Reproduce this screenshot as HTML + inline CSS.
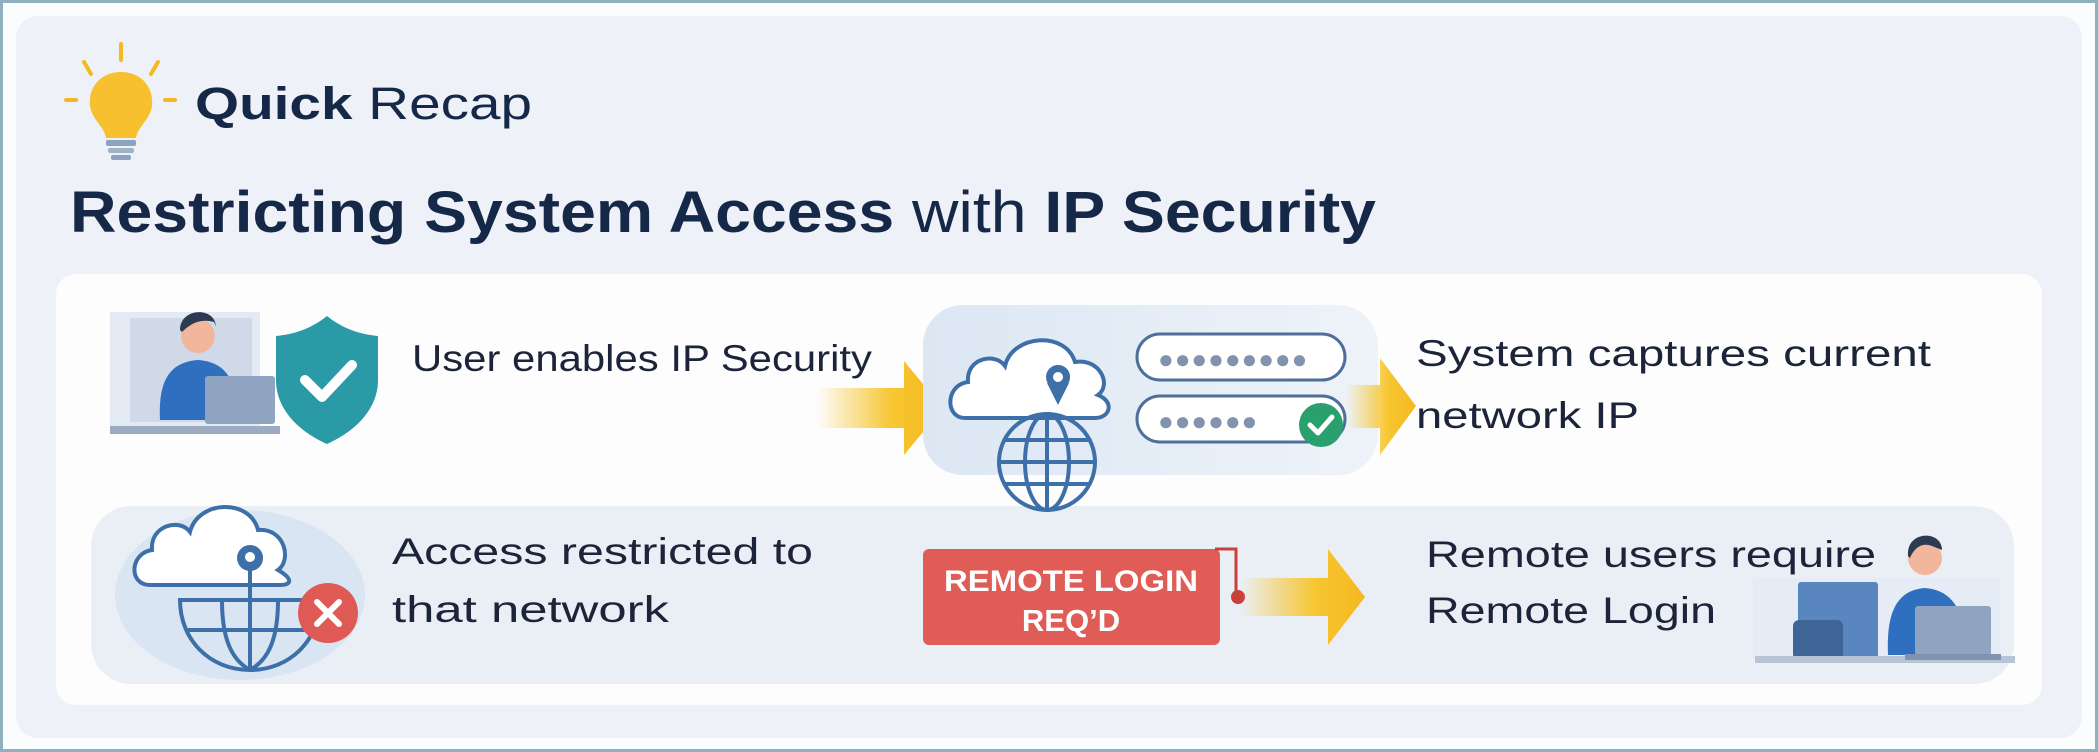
<!DOCTYPE html>
<html><head><meta charset="utf-8"><style>
html,body{margin:0;padding:0;background:#fff;}
svg{display:block;}
text{font-family:"Liberation Sans",sans-serif;}
</style></head><body>
<svg width="2098" height="752" viewBox="0 0 2098 752" xmlns="http://www.w3.org/2000/svg">
<defs>
<linearGradient id="ar" x1="0" x2="1" y1="0" y2="0">
<stop offset="0" stop-color="#f7c631" stop-opacity="0"/><stop offset="0.6" stop-color="#f7c631"/><stop offset="1" stop-color="#f5b820"/>
</linearGradient>
<linearGradient id="cp" x1="0" x2="1"><stop offset="0" stop-color="#dce7f3"/><stop offset="1" stop-color="#eef3f9"/></linearGradient>
</defs>
<rect x="0" y="0" width="2098" height="752" fill="#8fb0bf"/>
<rect x="3" y="3" width="2092" height="746" fill="#fbfcfe"/>
<rect x="16" y="16" width="2066" height="722" rx="22" fill="#eef1f7"/>

<!-- bulb -->
<g stroke="#f5b820" stroke-width="4" stroke-linecap="round">
<line x1="121" y1="44" x2="121" y2="60"/><line x1="84" y1="62" x2="91" y2="74"/><line x1="158" y1="62" x2="151" y2="74"/>
<line x1="66" y1="100" x2="76" y2="100"/><line x1="165" y1="100" x2="175" y2="100"/>
</g>
<path d="M121 72 C100 72 88 88 90 106 C92 120 104 126 106 138 L136 138 C138 126 150 120 152 106 C154 88 142 72 121 72Z" fill="#f7c02f"/>
<rect x="106" y="140" width="30" height="6" rx="2" fill="#8da3bd"/>
<rect x="108" y="148" width="26" height="5" rx="2" fill="#9fb2c8"/>
<rect x="111" y="155" width="20" height="5" rx="2" fill="#8da3bd"/>

<text x="195" y="119" font-size="45" fill="#152848" textLength="337" lengthAdjust="spacingAndGlyphs"><tspan font-weight="bold">Quick</tspan> Recap</text>
<text x="70" y="232" font-size="58" fill="#152848" textLength="1306" lengthAdjust="spacingAndGlyphs"><tspan font-weight="bold">Restricting System Access</tspan> with <tspan font-weight="bold">IP Security</tspan></text>

<!-- white card -->
<rect x="56" y="274" width="1986" height="431" rx="20" fill="#fdfdfe"/>

<!-- row 1 person -->
<rect x="110" y="312" width="150" height="116" fill="#e4eaf3"/>
<rect x="130" y="318" width="122" height="104" fill="#cfd9e7"/>
<rect x="110" y="426" width="170" height="8" fill="#9aabc2"/>
<circle cx="198" cy="336" r="17" fill="#f2b69c"/>
<path d="M180 330 C180 308 214 306 216 326 L214 322 C200 318 190 324 182 332Z" fill="#2c3b52"/>
<path d="M160 420 C158 380 170 362 198 360 C226 362 238 380 236 420Z" fill="#2f6fbf"/>
<rect x="205" y="376" width="70" height="48" rx="3" fill="#8ea4c0"/>
<!-- shield -->
<path d="M327 316 C312 328 296 334 276 336 L276 380 C276 410 300 432 327 444 C354 432 378 410 378 380 L378 336 C358 334 342 328 327 316Z" fill="#2a9aa6"/>
<path d="M305 380 L322 397 L352 365" fill="none" stroke="#fff" stroke-width="10" stroke-linecap="round" stroke-linejoin="round"/>
<text x="412" y="371" font-size="37" fill="#1b2438" textLength="460" lengthAdjust="spacingAndGlyphs">User enables IP Security</text>

<!-- arrow 1 -->
<path d="M816 388 L904 388 L904 361 L943 408 L904 455 L904 428 L816 428Z" fill="url(#ar)"/>

<!-- row 2 panel -->
<rect x="91" y="506" width="1923" height="178" rx="40" fill="#eaeff6"/>

<!-- cloud panel -->
<rect x="923" y="305" width="455" height="170" rx="40" fill="url(#cp)"/>
<path d="M965 418 C945 418 945 385 968 382 C966 358 995 352 1005 366 C1012 335 1065 330 1075 362 C1100 358 1112 385 1098 395 C1115 402 1110 418 1095 418Z" fill="#fff" stroke="#3d6fa8" stroke-width="4"/>
<path d="M1058 365 a12 12 0 1 0 0.1 0 Z" fill="#3d6fa8"/>
<path d="M1047 383 L1058 405 L1069 383Z" fill="#3d6fa8"/>
<circle cx="1058" cy="377" r="5" fill="#fff"/>
<g fill="none" stroke="#3d6fa8" stroke-width="4">
<circle cx="1047" cy="462" r="48"/>
<ellipse cx="1047" cy="462" rx="22" ry="48"/>
<line x1="1047" y1="414" x2="1047" y2="510"/>
<line x1="999" y1="462" x2="1095" y2="462"/>
<line x1="1005" y1="440" x2="1089" y2="440"/><line x1="1005" y1="484" x2="1089" y2="484"/>
</g>
<rect x="1137" y="334" width="208" height="46" rx="23" fill="#fff" stroke="#4d6f9a" stroke-width="3"/>
<text x="1158" y="368" font-size="26" fill="#8094b0" letter-spacing="1">●●●●●●●●●</text>
<rect x="1137" y="396" width="208" height="46" rx="23" fill="#fff" stroke="#4d6f9a" stroke-width="3"/>
<text x="1158" y="430" font-size="26" fill="#8094b0" letter-spacing="1">●●●●●●</text>
<circle cx="1321" cy="425" r="22" fill="#2aa06e"/>
<path d="M1310 425 L1318 433 L1332 417" fill="none" stroke="#fff" stroke-width="5" stroke-linecap="round" stroke-linejoin="round"/>

<!-- arrow 2 -->
<path d="M1346 385 L1380 385 L1380 358 L1416 406 L1380 455 L1380 428 L1346 428Z" fill="url(#ar)"/>
<text x="1416" y="366" font-size="37" fill="#1b2438" textLength="515" lengthAdjust="spacingAndGlyphs">System captures current</text>
<text x="1416" y="428" font-size="37" fill="#1b2438" textLength="223" lengthAdjust="spacingAndGlyphs">network IP</text>

<!-- row 2 content -->
<ellipse cx="240" cy="595" rx="125" ry="85" fill="#d9e5f2"/>
<path d="M150 585 C128 585 130 553 152 550 C150 525 180 518 190 532 C198 500 250 498 258 530 C285 528 292 560 278 570 C295 580 290 585 280 585Z" fill="#fff" stroke="#3d6fa8" stroke-width="4"/>
<path d="M250 545 a13 13 0 1 0 0.1 0 Z" fill="#3d6fa8"/>
<line x1="250" y1="560" x2="250" y2="600" stroke="#3d6fa8" stroke-width="4"/>
<circle cx="250" cy="557" r="5" fill="#fff"/>
<g fill="none" stroke="#3d6fa8" stroke-width="4">
<path d="M180 600 L320 600 C320 640 290 670 250 670 C210 670 180 640 180 600Z"/>
<line x1="250" y1="600" x2="250" y2="670"/><path d="M222 600 C222 640 232 660 250 670 M278 600 C278 640 268 660 250 670"/>
<line x1="188" y1="630" x2="312" y2="630"/>
</g>
<circle cx="328" cy="613" r="30" fill="#e05a55"/>
<path d="M317 602 L339 624 M339 602 L317 624" stroke="#fff" stroke-width="6" stroke-linecap="round"/>
<text x="392" y="564" font-size="37" fill="#1b2438" textLength="421" lengthAdjust="spacingAndGlyphs">Access restricted to</text>
<text x="392" y="622" font-size="37" fill="#1b2438" textLength="277" lengthAdjust="spacingAndGlyphs">that network</text>

<!-- red box -->
<rect x="923" y="549" width="297" height="96" rx="6" fill="#e05c56"/>
<path d="M1215 549 L1236 549 L1236 595" fill="none" stroke="#c9403b" stroke-width="3"/>
<circle cx="1238" cy="597" r="7" fill="#c9403b"/>
<text x="1071" y="591" font-size="30" fill="#fff" text-anchor="middle" font-weight="bold" textLength="254" lengthAdjust="spacingAndGlyphs">REMOTE LOGIN</text>
<text x="1071" y="631" font-size="31" fill="#fff" text-anchor="middle" font-weight="bold">REQ’D</text>

<!-- arrow 3 -->
<path d="M1240 578 L1328 578 L1328 549 L1365 597 L1328 645 L1328 616 L1240 616Z" fill="url(#ar)"/>
<text x="1426" y="567" font-size="37" fill="#1b2438" textLength="450" lengthAdjust="spacingAndGlyphs">Remote users require</text>
<text x="1426" y="623" font-size="37" fill="#1b2438" textLength="290" lengthAdjust="spacingAndGlyphs">Remote Login</text>

<!-- remote person -->
<rect x="1753" y="578" width="247" height="80" fill="#e6ecf5"/>
<rect x="1798" y="582" width="80" height="78" rx="3" fill="#5a86c0"/>
<rect x="1793" y="620" width="50" height="40" rx="6" fill="#3f6496"/>
<rect x="1755" y="656" width="260" height="7" fill="#b6c4d6"/>
<circle cx="1925" cy="558" r="17" fill="#f2b69c"/>
<path d="M1908 556 C1906 530 1942 530 1942 550 L1932 546 C1922 542 1914 548 1910 558Z" fill="#2c3b52"/>
<path d="M1888 655 C1886 610 1898 590 1925 588 C1952 590 1966 610 1966 655Z" fill="#2f6fbf"/>
<rect x="1915" y="606" width="76" height="50" rx="3" fill="#8ea4c0"/>
<rect x="1905" y="654" width="96" height="6" fill="#7d93b0"/>
</svg>
</body></html>
